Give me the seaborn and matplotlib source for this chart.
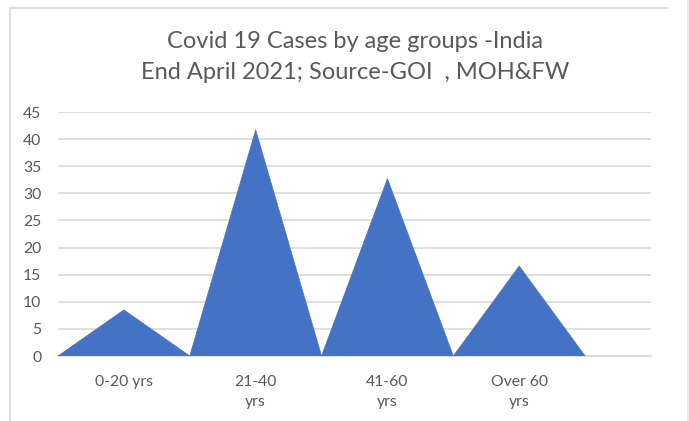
import matplotlib
matplotlib.use("Agg")
import matplotlib.pyplot as plt
from matplotlib.lines import Line2D
import seaborn as sns
import pandas as pd
import numpy as np

categories = ["0-20 yrs", "21-40\nyrs", "41-60\nyrs", "Over 60\nyrs"]
values = [8.5, 41.7, 32.7, 16.6]
yticks = [0, 5, 10, 15, 20, 25, 30, 35, 40, 45]
title = "Covid 19 Cases by age groups -India\nEnd April 2021; Source-GOI  , MOH&FW"

sns.set_style("white")
plt.rcParams['font.family'] = ['Lato', 'DejaVu Sans']

fig = plt.figure(figsize=(6.89, 4.21), dpi=100)
ax = fig.add_axes([58/689, 1-356/421, (651-58)/689, (356-112)/421])

rows = []
for i, (c, v) in enumerate(zip(categories, values)):
    rows += [dict(cat=c, x=i-0.5, y=0), dict(cat=c, x=i, y=v), dict(cat=c, x=i+0.5, y=0)]
df = pd.DataFrame(rows)

blue = "#4472C4"
sns.lineplot(data=df, x="x", y="y", units="cat", estimator=None, color=blue,
             lw=0.5, ax=ax, sort=False, zorder=3)
for c, g in df.groupby("cat", sort=False):
    ax.fill(g["x"], g["y"], color=blue, lw=0, zorder=3)

ax.set_xlim(-0.5, 4.0)
ax.set_ylim(0, 45)
ax.set_yticks(yticks)
ax.set_yticklabels([str(t) for t in yticks])
ax.yaxis.grid(True, color="#D9D9D9", lw=1.2)
ax.set_axisbelow(True)
for s in ["left", "right", "top"]:
    ax.spines[s].set_visible(False)
ax.spines["bottom"].set_color("#D9D9D9")
ax.spines["bottom"].set_linewidth(1.2)

ax.set_xticks(np.arange(len(categories)))
ax.set_xticklabels(categories, linespacing=1.55)
ax.set_xticks(list(np.arange(-0.5, 4.01, 0.5)), minor=True)
ax.tick_params(axis="x", which="major", length=0, pad=14, labelsize=11.3, labelcolor="#595959")
ax.tick_params(axis="x", which="minor", length=5, color="#D9D9D9", width=1.2)
ax.tick_params(axis="y", length=0, pad=12, labelsize=11.3, labelcolor="#595959")
ax.set_xlabel("")
ax.set_ylabel("")

fig.text(355/689, 1-57/421, title, ha="center", va="center", fontsize=17,
         color="#595959", linespacing=1.6)

W, H = 689, 421
frame = "#D9D9D9"
fig.add_artist(Line2D([10/W, 668/W], [1-8/H, 1-8/H], transform=fig.transFigure, color=frame, lw=1.2))
fig.add_artist(Line2D([10/W, 10/W], [0, 1-8/H], transform=fig.transFigure, color=frame, lw=1.2))
fig.add_artist(Line2D([688/W, 688/W], [0, 1], transform=fig.transFigure, color="#E6E6E6", lw=1.2))

fig.savefig("out.png", dpi=100)
